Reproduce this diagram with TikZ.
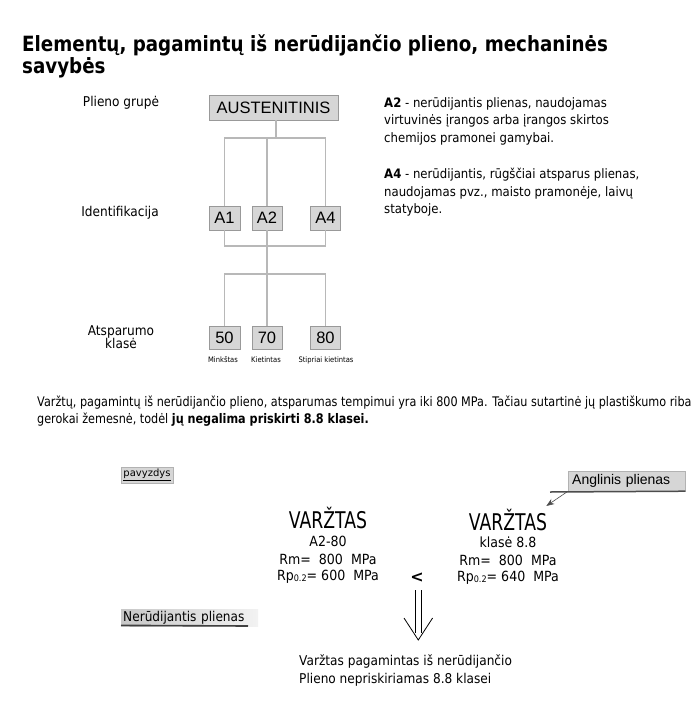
\documentclass[tikz,border=0pt]{standalone}
\usepackage{fontspec}
\setmainfont{DejaVu Sans}
\newfontfamily\titlefont[FakeStretch=0.87]{DejaVu Sans}
\newfontfamily\bodyfont[FakeStretch=0.9]{DejaVu Sans}
\newfontfamily\narrowfont[FakeStretch=0.85]{DejaVu Sans}
\newfontfamily\boltfont[FakeStretch=0.75]{DejaVu Sans}
\newfontfamily\boxfont{Liberation Sans}
\usetikzlibrary{arrows.meta}

\newcommand{\rpsub}[1]{Rp\raisebox{-0.5pt}{\fontsize{9}{9}\selectfont 0.2}=\ #1\ \ MPa}

\begin{document}
\begin{tikzpicture}[x=1pt, y=-1pt,
		tree/.style={draw=black!28, line width=1.2pt},
		gbox/.style={draw=black!40, fill=black!16, inner sep=0pt, font=\boxfont\fontsize{16.5}{18}\selectfont},
		rowlabel/.style={font=\bodyfont\fontsize{13.5}{14}\selectfont, align=center},
		tiny/.style={font=\bodyfont\fontsize{7.5}{8}\selectfont, inner sep=0pt},
		info/.style={font=\bodyfont\fontsize{13}{17.5}\selectfont, align=left, anchor=north west, inner sep=0pt},
		callout/.style={fill=black!16, inner sep=0pt},
		vline/.style={font=\bodyfont\fontsize{14}{16}\selectfont, inner sep=0pt},
		vtitle/.style={font=\boltfont\fontsize{23}{25}\selectfont, inner sep=0pt},
		imply/.style={line width=0.8pt},
	]
	\useasboundingbox (0,0) rectangle (700,724);

	% title
	\node[anchor=north west, align=left, inner sep=0pt, font=\titlefont\bfseries\fontsize{21}{22.5}\selectfont] (title) at (22,34)
		{Elementų, pagamintų iš nerūdijančio plieno, mechaninės\\savybės};

	% tree
	\node[rowlabel] (lgrp) at (121,103) {Plieno grupė};
	\node[rowlabel] (lid) at (120,213) {Identifikacija};
	\node[rowlabel, font=\bodyfont\fontsize{13.5}{13.5}\selectfont] (lcls) at (121,337) {Atsparumo\\klasė};

	\coordinate (bus1) at (267,138);
	\coordinate (bus2) at (267,246);
	\coordinate (bus3) at (267,274);

	\node[gbox, minimum width=129, minimum height=25] (aus) at (273.5,107.5) {AUSTENITINIS};
	\node[gbox, minimum width=31, minimum height=24] (a1) at (224.5,218) {A1};
	\node[gbox, minimum width=30, minimum height=24] (a2) at (267,218) {A2};
	\node[gbox, minimum width=30, minimum height=24] (a4) at (325.5,218) {A4};
	\node[gbox, minimum width=31, minimum height=23] (k50) at (224.5,337.5) {50};
	\node[gbox, minimum width=30, minimum height=23] (k70) at (267,337.5) {70};
	\node[gbox, minimum width=30, minimum height=23] (k80) at (325.5,337.5) {80};

	\draw[tree] ([xshift=2.5pt]aus.south) -- ([xshift=2.5pt]aus.south |- bus1);
	\draw[tree] (a1.north) |- (bus1) -| (a4.north);
	\draw[tree] (a2.north) -- (bus1);
	\draw[tree] (a1.south) |- (bus2) -| (a4.south);
	\draw[tree] (a2.south) -- (bus2) -- (bus3);
	\draw[tree] (k50.north) |- (bus3) -| (k80.north);
	\draw[tree] (k70.north) -- (bus3);

	\node[tiny] (t50) at (223,360) {Minkštas};
	\node[tiny] (t70) at (266,360) {Kietintas};
	\node[tiny] (t80) at (326,360) {Stipriai kietintas};

	% notes
	\node[info] (nA2) at (384,97) {\textbf{A2} - nerūdijantis plienas, naudojamas\\virtuvinės įrangos arba įrangos skirtos\\chemijos pramonei gamybai.};
	\node[info] (nA4) at (384,168) {\textbf{A4} - nerūdijantis, rūgščiai atsparus plienas,\\naudojamas pvz., maisto pramonėje, laivų\\statyboje.};

	\node[anchor=north west, align=left, inner sep=0pt, font=\narrowfont\fontsize{13.2}{16.5}\selectfont] (para) at (37,396)
		{Varžtų, pagamintų iš nerūdijančio plieno, atsparumas tempimui yra iki 800 MPa. Tačiau sutartinė jų plastiškumo riba\\gerokai žemesnė, todėl \textbf{jų negalima priskirti 8.8 klasei.}};

	% example
	\node[callout, draw=black!30, minimum width=52, minimum height=16, font=\fontsize{10}{11}\selectfont] (pav) at (147,475) {\underline{pavyzdys}};

	\node[vtitle] (v1) at (328,518) {VARŽTAS};
	\node[vline] (v1c) at (328,541) {A2-80};
	\node[vline] (v1rm) at (328,559) {Rm=\ \ 800\ \ MPa};
	\node[vline] (v1rp) at (328,577) {\rpsub{600}};

	\node[vtitle] (v2) at (508,520) {VARŽTAS};
	\node[vline] (v2c) at (508,542) {klasė 8.8};
	\node[vline] (v2rm) at (508,560) {Rm=\ \ 800\ \ MPa};
	\node[vline] (v2rp) at (508,578) {\rpsub{640}};

	\node[font=\bfseries\fontsize{16}{16}\selectfont, inner sep=0pt] (lt) at (417,578) {<};

	\node[callout, draw=black!30, anchor=west, text width=109, minimum height=20, inner xsep=4pt, align=left, font=\boxfont\fontsize{14}{15}\selectfont] (ang) at (568,481) {Anglinis plienas};
	\coordinate (angl) at (550,492);
	\draw[black!70, line width=1.5pt] (angl) -- (ang.south east);
	\draw[black!70, line width=0.6pt, -{Stealth[length=8pt, width=6pt]}] (ang.south west) -- ([shift={(-1pt,3pt)}]v2.north east);

	\node[anchor=west, text width=133, align=left, minimum height=17, inner xsep=2pt, inner ysep=0pt, left color=black!22, right color=black!5, font=\bodyfont\fontsize{13.5}{14}\selectfont] (ner) at (121,617.5) {Nerūdijantis plienas};
	\coordinate (nerend) at (248,626);
	\draw[black!75, line width=1.6pt] ([yshift=0.8pt]ner.south west) -- (nerend);

	% double arrow down
	\coordinate (dtopl) at (415.5,590);
	\coordinate (dtopr) at (421,590);
	\coordinate (dlowl) at (415.5,633);
	\coordinate (dlowr) at (421,633);
	\coordinate (dheadl) at (404,618);
	\coordinate (dheadr) at (432.6,618);
	\coordinate (dtip) at (418.3,640);
	\draw[imply] (dtopl) -- (dlowl);
	\draw[imply] (dtopr) -- (dlowr);
	\draw[imply, line join=miter] (dheadl) -- (dtip) -- (dheadr);

	\node[info, font=\bodyfont\fontsize{13.5}{18}\selectfont] (res) at (299,654) {Varžtas pagamintas iš nerūdijančio\\Plieno nepriskiriamas 8.8 klasei};
\end{tikzpicture}
\end{document}
